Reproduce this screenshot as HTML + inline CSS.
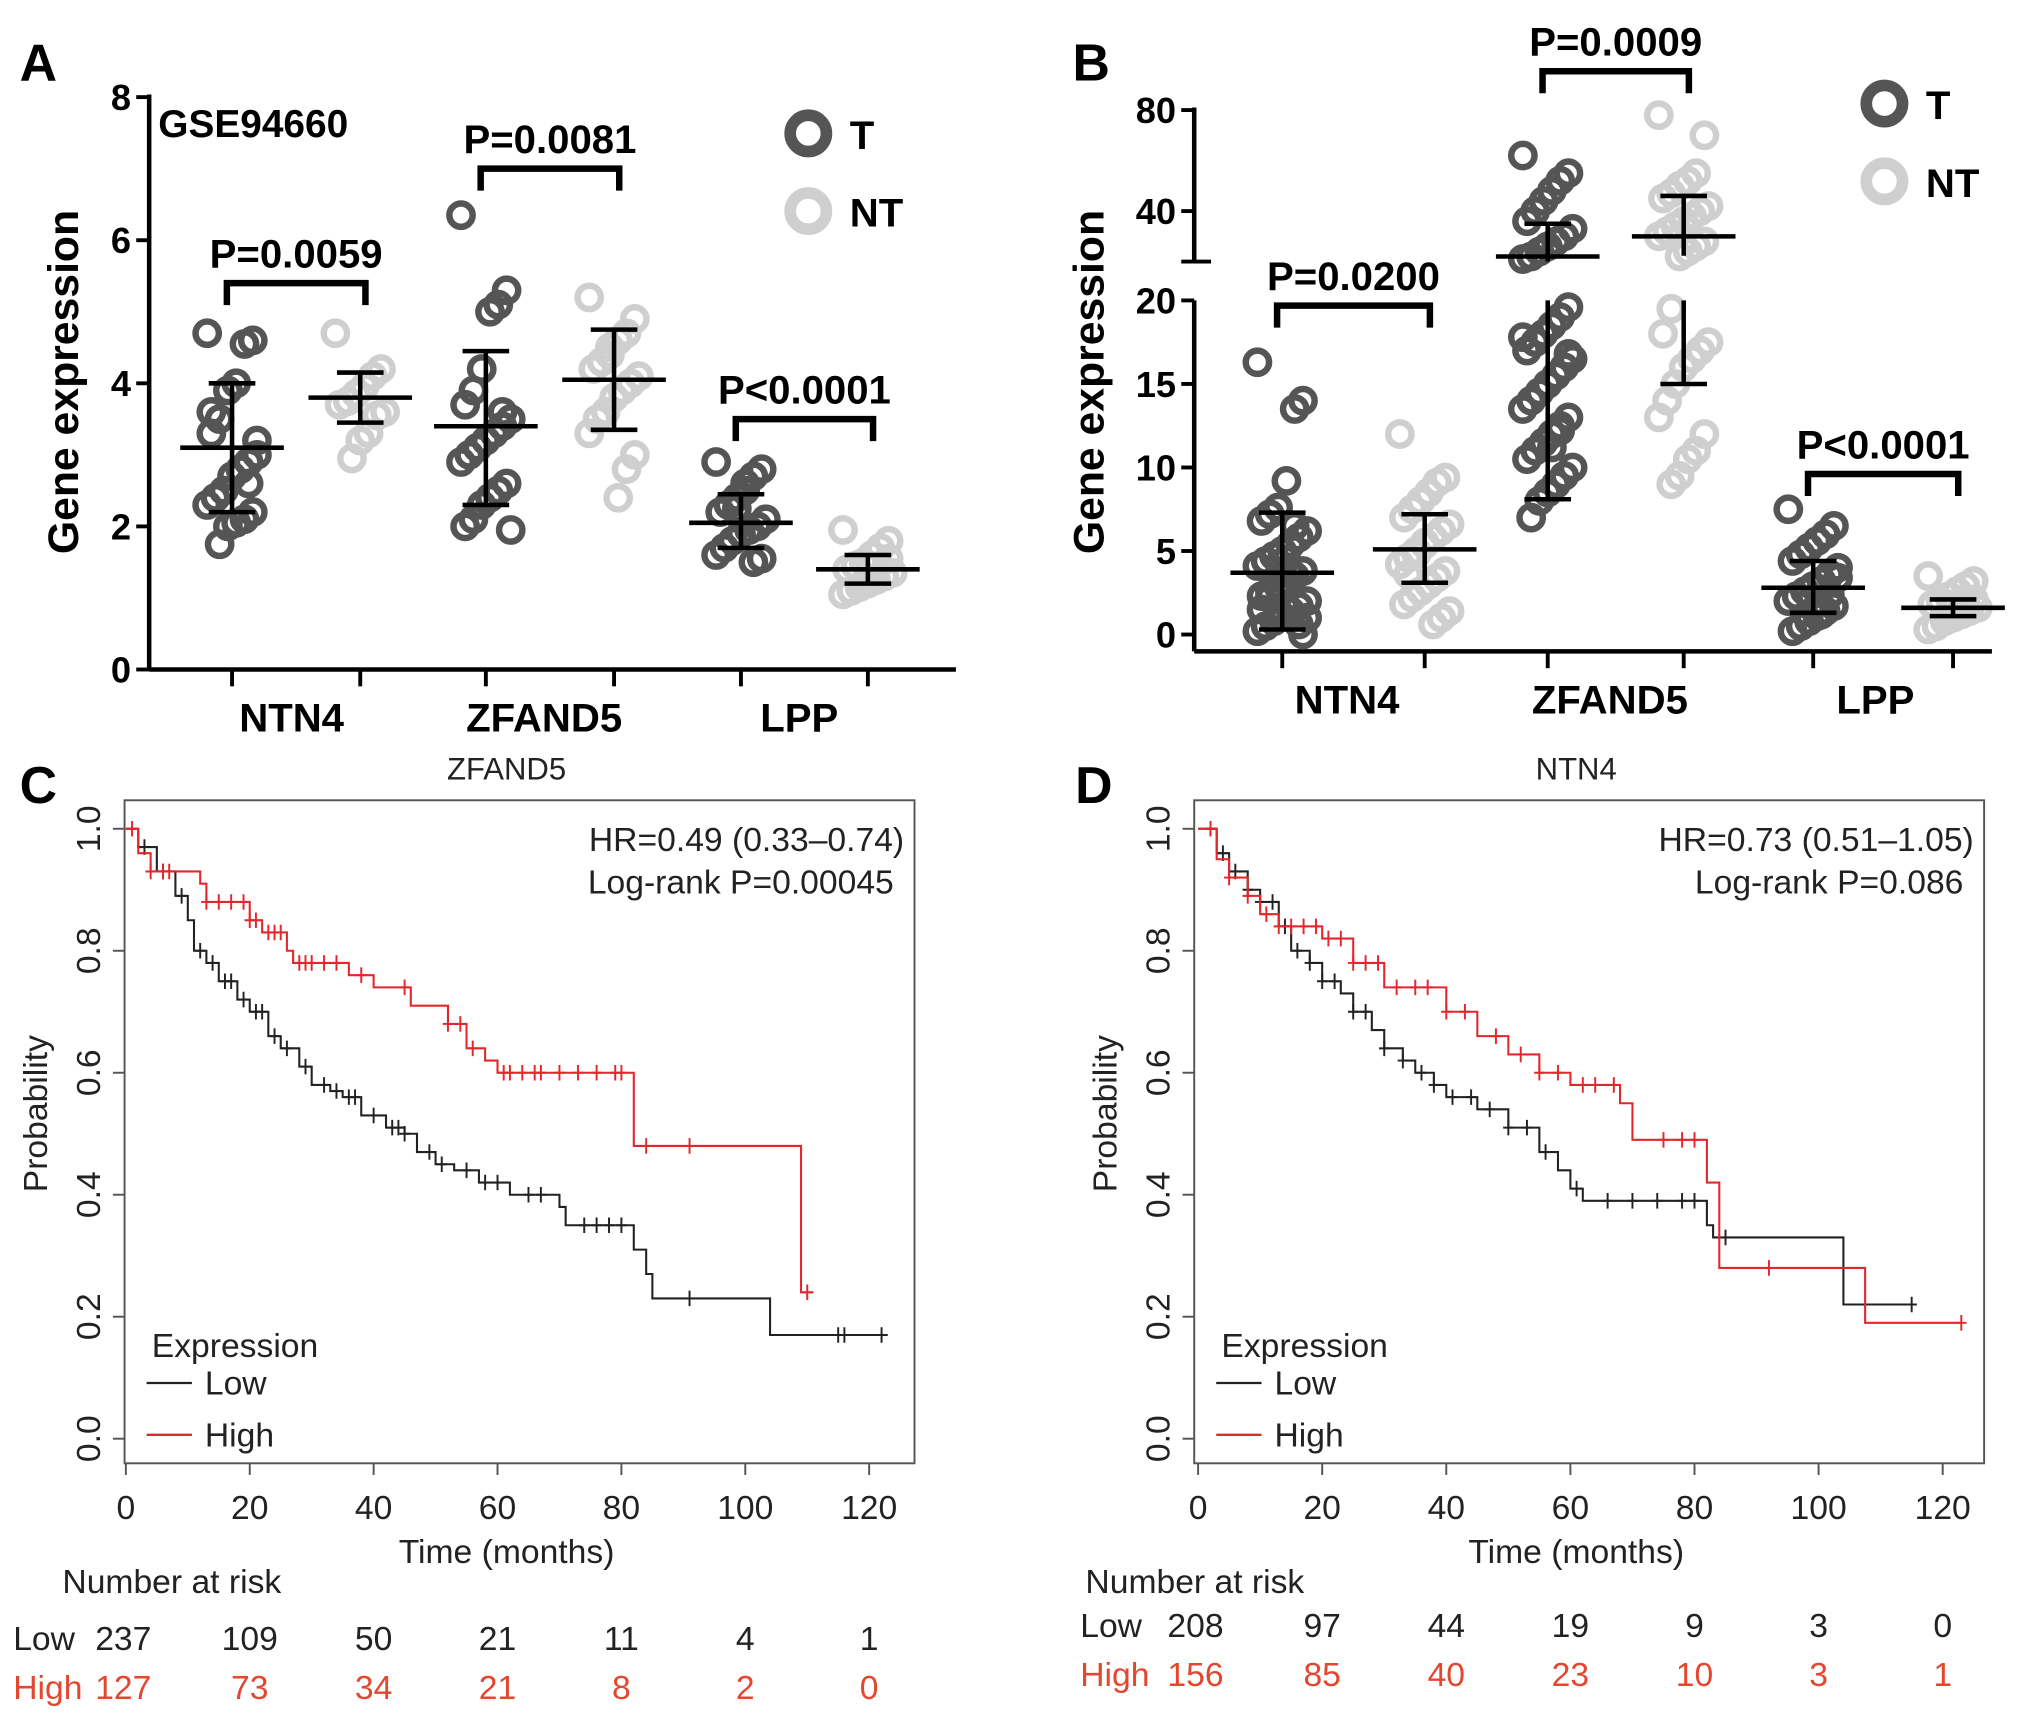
<!DOCTYPE html>
<html><head><meta charset="utf-8"><style>
html,body{margin:0;padding:0;background:#fff}
svg{display:block}
text{font-family:"Liberation Sans",Arial,sans-serif}
.b{font-weight:bold}
</style></head><body>
<svg id="fig" width="2031" height="1721" viewBox="0 0 1568 1329" xmlns="http://www.w3.org/2000/svg">
<g id="pa"></g>
<g id="pb"></g>
<g id="pc"></g>
<g id="pd"></g>
</svg>
<script>
// ---------- Data ----------
const genes = ["NTN4","ZFAND5","LPP"];
const aTicks = [0,2,4,6,8];
const aMean = [3.1,3.8,3.4,4.05,2.05,1.4];
const aLo = [2.2,3.45,2.3,3.35,1.7,1.2];
const aHi = [4.0,4.15,4.45,4.75,2.45,1.6];
const aP = ["P=0.0059","P=0.0081","P<0.0001"];
const aPts0 = [4.7,4.6,4.55,4.0,3.9,3.5,3.3,3.0,2.9,2.8,2.7,2.5,2.4,2.3,2.2,2.1,2.05,2.0,1.75,3.6,3.2,2.6];
const aPts1 = [4.7,4.2,4.1,3.95,3.85,3.75,3.7,3.6,3.55,3.3,3.2,2.95];
const aPts2 = [6.35,5.3,5.1,5.0,4.2,3.9,3.7,3.5,3.4,3.3,3.2,3.1,3.0,2.9,2.6,2.5,2.4,2.3,2.1,2.0,1.95,3.6];
const aPts3 = [5.2,4.9,4.7,4.6,4.4,4.3,4.2,4.1,4.0,3.9,3.8,3.6,3.5,3.3,3.0,2.8,2.4,4.5];
const aPts4 = [2.9,2.8,2.7,2.5,2.4,2.3,2.2,2.1,2.0,1.95,1.9,1.8,1.7,1.6,1.55,1.5,2.6,2.25];
const aPts5 = [1.95,1.8,1.7,1.6,1.5,1.45,1.4,1.35,1.3,1.25,1.2,1.15,1.1,1.05,1.55];
const bTicks = [0,5,10,15,20,40,80];
const bMean = [3.7,5.1,22,30,2.8,1.6];
const bLo = [0.3,3.1,8.1,15,1.3,1.1];
const bHi = [7.3,7.2,35,46,4.4,2.1];
const bP = ["P=0.0200","P=0.0009","P<0.0001"];
const bPts0 = [16.3,14,13.5,9.2,7.6,7.2,6.8,6.2,5.8,5.4,5,4.7,4.4,4.1,3.8,3.5,3.2,2.9,2.6,2.3,2.0,1.7,1.4,1.1,0.8,0.5,0.2,0,6.5,4.5,3.0,2.2,1.5,1.0,0.6,3.6,2.8];
const bPts1 = [12,9.4,9.1,8.5,8,7.5,7,6.6,6.2,5.8,5.4,5,4.6,4.2,3.8,3.4,3,2.6,2.2,1.8,1.4,1.0,0.6,5.5,4.8,3.6];
const bPts2 = [62,55,52,48,44,40,36,33,30,28,26,24,22,21,19.6,19,18.5,18,17.5,17,16.5,16,15.5,15,14.5,14,13.5,13,12.5,12,11.5,11,10.5,10,9.5,9,8.5,8,7,17.8,16.8,12.2,11.2];
const bPts3 = [78,70,55,52,50,47,45,42,40,38,36,34,32,30,28,26,24,22,19.5,18,17.5,17,16.5,16,15,14,13,12,11,10.5,9.5,9];
const bPts4 = [7.5,6.5,6,5.6,5.2,4.8,4.4,4,3.6,3.2,2.9,2.6,2.3,2,1.7,1.4,1.1,0.8,0.5,0.2,3.4,2.4,1.2];
const bPts5 = [3.5,3.2,2.9,2.6,2.3,2.0,1.8,1.6,1.4,1.2,1.0,0.8,0.5,0.3,2.1,1.5];
// survival
const xTicks = [0,20,40,60,80,100,120];
const yTicks = [0.0,0.2,0.4,0.6,0.8,1.0];
const cLowT = [0,2,5,8,10,11,13,15,18,20,23,25,28,30,33,35,38,42,45,47,50,53,57,62,70,71,82,84,85,104,123];
const cLowS = [1,0.97,0.93,0.89,0.85,0.80,0.78,0.75,0.72,0.70,0.66,0.64,0.61,0.58,0.57,0.56,0.53,0.51,0.50,0.47,0.45,0.44,0.42,0.40,0.38,0.35,0.31,0.27,0.23,0.17,0.17];
const cHighT = [0,2,4,12,13,20,22,26,27,36,40,46,52,55,58,60,82,109,111];
const cHighS = [1,0.96,0.93,0.91,0.88,0.85,0.83,0.80,0.78,0.76,0.74,0.71,0.68,0.64,0.62,0.60,0.48,0.24,0.24];
const cLowCens = [3,6,9,12,14,16,17,19,21,22,24,26,29,32,34,36,37,40,43,44,45,49,51,55,58,60,65,67,74,76,78,80,91,115,116,122];
const cHighCens = [1,4,6,7,13,15,17,19,20,21,23,24,25,28,29,30,32,34,38,45,52,54,56,61,62,64,66,67,70,73,76,79,80,84,91,110];
const dLowT = [0,3,5,8,10,13,15,18,20,23,25,28,30,33,35,38,40,45,50,55,58,60,62,82,83,104,115];
const dLowS = [1,0.96,0.93,0.90,0.88,0.84,0.80,0.78,0.75,0.73,0.70,0.67,0.64,0.62,0.60,0.58,0.56,0.54,0.51,0.47,0.44,0.41,0.39,0.35,0.33,0.22,0.22];
const dHighT = [0,3,5,8,10,13,20,25,30,40,45,50,55,60,68,70,82,84,107.5,123];
const dHighS = [1,0.95,0.92,0.89,0.86,0.84,0.82,0.78,0.74,0.70,0.66,0.63,0.60,0.58,0.55,0.49,0.42,0.28,0.19,0.19];
const dLowCens = [2,4,6,8,10,12,14,16,18,20,22,25,27,30,33,36,38,41,44,47,50,53,56,61,66,70,74,78,80,85,115];
const dHighCens = [2,5,8,11,13,15,17,19,21,23,25,27,29,32,35,37,40,43,48,52,55,58,62,64,67,75,78,80,92,123];

const NS="http://www.w3.org/2000/svg";
function mk(parent, tag, attrs, txt){
  const e=document.createElementNS(NS,tag);
  for(const k in attrs) e.setAttribute(k,attrs[k]);
  if(txt!==undefined) e.textContent=txt;
  parent.appendChild(e); return e;
}
const DARK="#555", LIGHT="#cfcfcf";

// ---------- Scatter panels ----------
function scatterPanel(g, cfg){
  const {yScale, axisX, axisY0, axisRight, ticks, tickX, labelX, mean, lo, hi, pts, P, brackets, letter, letterX, ylabX, legendX, legendY} = cfg;
  let e=mk(g,'text',{x:letterX,y:62,'font-size':40,class:'b'},letter);
  
  
  e=mk(g,'text',{x:ylabX,y:295,'font-size':33,class:'b','text-anchor':'middle',transform:`rotate(-90 ${ylabX} 295)`},'Gene expression');
  
  
  cfg.drawAxis(g);
  ticks.forEach(t=>{
    const y=yScale(t);
    let l=mk(g,'line',{x1:axisX-10,x2:axisX,y1:y,y2:y,stroke:'#000','stroke-width':3});
    
    
    let tx=mk(g,'text',{x:axisX-14,y:y+10,'font-size':28,class:'b','text-anchor':'end'},String(t));
    
    
  });
  let xa=mk(g,'line',{x1:axisX,x2:axisRight,y1:axisY0,y2:axisY0,stroke:'#000','stroke-width':3.5});
  
  
  tickX.forEach(x=>{
    let l=mk(g,'line',{x1:x,x2:x,y1:axisY0,y2:axisY0+13,stroke:'#000','stroke-width':3});
    
    
  });
  genes.forEach((n,i)=>{
    let t=mk(g,'text',{x:labelX[i],y:axisY0+48,'font-size':31,class:'b','text-anchor':'middle'},n);
    
    
  });
  pts.forEach((arr,gi)=>{
    const cx=tickX[gi], col=gi%2? LIGHT:DARK;
    const grp=mk(g,'g',{});
    
    
    arr.forEach((v,i)=>{
      const off=(((i*37)%13)-6)*3.2;
      let c=mk(grp,'circle',{cx:cx+off,cy:yScale(v),r:9,fill:'none',stroke:col,'stroke-width':5});
      
      
    });
  });
  mean.forEach((m,gi)=>{
    const cx=tickX[gi];
    const eg=mk(g,'g',{stroke:'#000','stroke-width':3.5});
    
    
    cfg.drawErr(eg,cx,m,lo[gi],hi[gi]);
    mk(eg,'line',{x1:cx-40,x2:cx+40,y1:yScale(m),y2:yScale(m)});
    mk(eg,'line',{x1:cx-18,x2:cx+18,y1:yScale(lo[gi]),y2:yScale(lo[gi])});
    mk(eg,'line',{x1:cx-18,x2:cx+18,y1:yScale(hi[gi]),y2:yScale(hi[gi])});
  });
  brackets.forEach((b,i)=>{
    const x1=tickX[2*i]-4, x2=tickX[2*i+1]+4;
    let p=mk(g,'path',{d:`M${x1} ${b+17}V${b}H${x2}V${b+17}`,fill:'none',stroke:'#000','stroke-width':5});
    
    
    let t=mk(g,'text',{x:(x1+x2)/2,y:b-12,'font-size':31,class:'b','text-anchor':'middle'},P[i]);
    
    
  });
  [['T',DARK,legendY],['NT',LIGHT,legendY+60]].forEach(([n,c,y])=>{
    let cc=mk(g,'circle',{cx:legendX,cy:y,r:14,fill:'none',stroke:c,'stroke-width':9});
    
    
    let t=mk(g,'text',{x:legendX+32,y:y+12,'font-size':31,class:'b'},n);
    
    
  });
}

// Panel A
const yA=v=>517-v*55.25;
scatterPanel(document.getElementById('pa'),{
  yScale:yA, axisX:115, axisY0:517, axisRight:738, ticks:aTicks,
  tickX:[179,278,375,474,572,670], labelX:[225,420,617],
  mean:aMean, lo:aLo, hi:aHi, pts:[aPts0,aPts1,aPts2,aPts3,aPts4,aPts5], P:aP,
  brackets:[yA(5.4),yA(7.0),yA(3.5)], letter:'A', letterX:15, ylabX:60, legendX:624, legendY:103,
  drawAxis:g=>{let l=mk(g,'line',{x1:115,x2:115,y1:yA(8)-2,y2:517,stroke:'#000','stroke-width':3.5});
    
    },
  drawErr:(eg,cx,m,lo,hi)=>mk(eg,'line',{x1:cx,x2:cx,y1:yA(hi),y2:yA(lo)})
});
let gse=mk(document.getElementById('pa'),'text',{x:122,y:106,'font-size':30,class:'b'},'GSE94660');



// Panel B (broken axis)
const yB=v=> v<=20 ? 490-v*12.9 : 202-(v-20)*1.95;
scatterPanel(document.getElementById('pb'),{
  yScale:yB, axisX:922, axisY0:503, axisRight:1538, ticks:bTicks,
  tickX:[990,1100,1195,1300,1400,1508], labelX:[1040,1243,1448],
  mean:bMean, lo:bLo, hi:bHi, pts:[bPts0,bPts1,bPts2,bPts3,bPts4,bPts5], P:bP,
  brackets:[236,55,366], letter:'B', letterX:828, ylabX:852, legendX:1455, legendY:80,
  drawAxis:g=>{
    let l=mk(g,'line',{x1:922,x2:922,y1:yB(80)-2,y2:202,stroke:'#000','stroke-width':3.5});
    
    
    l=mk(g,'line',{x1:922,x2:922,y1:yB(20),y2:503,stroke:'#000','stroke-width':3.5});
    
    
    l=mk(g,'line',{x1:912,x2:935,y1:202,y2:202,stroke:'#000','stroke-width':3});
    
    
  },
  drawErr:(eg,cx,m,lo,hi)=>{
    if(hi>20 && lo<20){
      mk(eg,'line',{x1:cx,x2:cx,y1:yB(hi),y2:Math.min(yB(m)+15,202)});
      mk(eg,'line',{x1:cx,x2:cx,y1:yB(20),y2:yB(lo)});
    } else mk(eg,'line',{x1:cx,x2:cx,y1:yB(hi),y2:yB(lo)});
  }
});

// ---------- Survival panels ----------
function kmPanel(g,cfg){
  const {L,R,T,B,x0,x120,title,letter,letterX,hr,lr,lowT,lowS,highT,highS,lowC,highC,risk} = cfg;
  const sx=t=>x0+(x120-x0)*t/120, sy=s=>1111-471*s;
  let e=mk(g,'text',{x:letterX,y:620,'font-size':40,class:'b'},letter);
  
  
  e=mk(g,'text',{x:(L+R)/2-10,y:602,'font-size':24,'text-anchor':'middle',fill:'#222'},title);
  
  
  e=mk(g,'rect',{x:L,y:T,width:R-L,height:B-T,fill:'none',stroke:'#555','stroke-width':1.5});
  
  
  xTicks.forEach(t=>{
    let l=mk(g,'line',{x1:sx(t),x2:sx(t),y1:B,y2:B+9,stroke:'#555','stroke-width':1.5});
    
    
    let tx=mk(g,'text',{x:sx(t),y:B+43,'font-size':26,'text-anchor':'middle',fill:'#222'},String(t));
    
    
  });
  yTicks.forEach(s=>{
    let l=mk(g,'line',{x1:L-9,x2:L,y1:sy(s),y2:sy(s),stroke:'#555','stroke-width':1.5});
    
    
    let tx=mk(g,'text',{x:L-19,y:sy(s),'font-size':26,'text-anchor':'middle',fill:'#222',transform:`rotate(-90 ${L-19} ${sy(s)})`},s.toFixed(1));
    
    
  });
  e=mk(g,'text',{x:(L+R)/2-10,y:B+77,'font-size':26,'text-anchor':'middle',fill:'#222'},'Time (months)');
  
  
  e=mk(g,'text',{x:L-60,y:860,'font-size':26,'text-anchor':'middle',fill:'#222',transform:`rotate(-90 ${L-60} 860)`},'Probability');
  
  
  e=mk(g,'text',{x:R-8,y:657,'font-size':26,'text-anchor':'end',fill:'#222'},hr);
  
  
  e=mk(g,'text',{x:R-16,y:690,'font-size':26,'text-anchor':'end',fill:'#222'},lr);
  
  
  function curve(ts,ss,cs,col,name){
    let d=`M${sx(ts[0])} ${sy(ss[0])}`;
    for(let i=1;i<ts.length;i++){ d+=`H${sx(ts[i])}V${sy(ss[i])}`; }
    let p=mk(g,'path',{d,fill:'none',stroke:col,'stroke-width':1.6});
    
    
    cs.forEach(t=>{
      let j=0; for(let i=0;i<ts.length;i++) if(ts[i]<=t) j=i;
      const x=sx(t), y=sy(ss[j]);
      let c=mk(g,'path',{d:`M${x-4} ${y}H${x+4}M${x} ${y-6}V${y+6}`,stroke:col,'stroke-width':1.5});
      
      
    });
  }
  curve(lowT,lowS,lowC,'#222','low');
  curve(highT,highS,highC,'#e3272c','high');
  const lx=L+21;
  e=mk(g,'text',{x:lx,y:1048,'font-size':26,fill:'#222'},'Expression');
  
  
  [['Low','#222',1068],['High','#e3272c',1108]].forEach(([n,c,y])=>{
    let l=mk(g,'line',{x1:lx-4,x2:lx+31,y1:y,y2:y,stroke:c,'stroke-width':1.8});
    
    
    let t=mk(g,'text',{x:lx+41,y:y+9,'font-size':26,fill:'#222'},n);
    
    
  });
  e=mk(g,'text',{x:risk.x,y:risk.y0,'font-size':26,fill:'#222'},'Number at risk');
  
  
  [['Low','#222',risk.low,risk.y1],['High','#e3472f',risk.high,risk.y2]].forEach(([n,c,vals,y])=>{
    let t=mk(g,'text',{x:risk.lx,y:y,'font-size':26,fill:c},n);
    
    
    vals.forEach((v,i)=>{
      let tv=mk(g,'text',{x:sx(xTicks[i])+(i==0?-2:0),y:y,'font-size':26,fill:c,'text-anchor':'middle'},String(v));
      
      
    });
  });
}
const cRiskLow=[237,109,50,21,11,4,1], cRiskHigh=[127,73,34,21,8,2,0];
const dRiskLow=[208,97,44,19,9,3,0], dRiskHigh=[156,85,40,23,10,3,1];
kmPanel(document.getElementById('pc'),{L:96,R:706,T:618,B:1130,x0:97,x120:671,title:'ZFAND5',letter:'C',letterX:15,
  hr:'HR=0.49 (0.33–0.74)',lr:'Log-rank P=0.00045',lowT:cLowT,lowS:cLowS,highT:cHighT,highS:cHighS,lowC:cLowCens,highC:cHighCens,
  risk:{x:48,y0:1230,lx:10,y1:1274,y2:1312,low:cRiskLow,high:cRiskHigh}});
kmPanel(document.getElementById('pd'),{L:922,R:1532,T:618,B:1130,x0:925,x120:1500,title:'NTN4',letter:'D',letterX:830,
  hr:'HR=0.73 (0.51–1.05)',lr:'Log-rank P=0.086',lowT:dLowT,lowS:dLowS,highT:dHighT,highS:dHighS,lowC:dLowCens,highC:dHighCens,
  risk:{x:838,y0:1230,lx:834,y1:1264,y2:1302,low:dRiskLow,high:dRiskHigh}});
</script>
</body></html>
